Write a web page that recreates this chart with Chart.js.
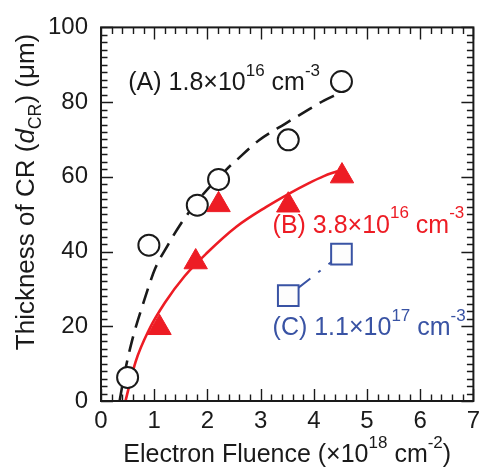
<!DOCTYPE html>
<html>
<head>
<meta charset="utf-8">
<script src="https://cdn.jsdelivr.net/npm/chart.js@4.4.0/dist/chart.umd.min.js"></script>
<style>
  html, body { margin: 0; padding: 0; background: #fff; }
  #wrap { width: 490px; height: 472px; }
</style>
</head>
<body>
<div id="wrap"><canvas id="chart" width="490" height="472"></canvas></div>
<script>
// values

// (A) 1.8e16 cm-3, open circles
const fluenceA = [0.50, 0.90, 1.81, 2.21, 3.52, 4.52];
const thickA   = [6.3, 41.7, 52.4, 59.3, 69.9, 85.5];
// (B) 3.8e16 cm-3, filled triangles
const fluenceB = [1.10, 1.78, 2.21, 3.52, 4.53];
const thickB   = [19.6, 37.2, 52.5, 52.4, 60.2];
// (C) 1.1e17 cm-3, open squares
const fluenceC = [3.52, 4.52];
const thickC   = [28.2, 39.3];

// fitted curves, traced point by point
const fitAX = [0.35, 0.44, 0.59, 0.78, 1.02, 1.26, 1.48, 1.90, 2.36, 2.55, 2.97, 3.46, 3.83, 4.19, 4.45];
const fitAY = [0, 7.2, 16.5, 25.5, 35.5, 41.8, 47.0, 55.0, 62.0, 64.5, 69.8, 74.2, 77.4, 80.4, 82.2];
const fitBX = [0.46, 0.65, 0.90, 1.20, 1.57, 1.99, 2.55, 3.10, 3.52, 3.89, 4.19, 4.44];
const fitBY = [0, 10.5, 19.0, 26.3, 33.4, 39.6, 46.7, 51.9, 55.4, 58.2, 60.2, 61.5];

// axes
const xMin = 0, xMax = 7, xStep = 1, xMinor = 0.2;
const yMin = 0, yMax = 100, yStep = 20, yMinor = 2;

const INK = '#1a1a1a';
const RED = '#ed1c24';
const BLUE = '#3953a4';
const FONT = "'Liberation Sans', Arial, Helvetica, sans-serif";

const pts = (xs, ys) => xs.map((x, i) => ({ x, y: ys[i] }));

// annotation labels: [parts, anchor x, anchor y (baseline), colour]
const labels = [
  [[['(A) 1.8×10', ''], ['16', 'sup'], [' cm', ''], ['-3', 'sup']], 0.513, 83.2, INK],
  [[['(B) 3.8×10', ''], ['16', 'sup'], [' cm', ''], ['-3', 'sup']], 3.225, 45.0, RED],
  [[['(C) 1.1×10', ''], ['17', 'sup'], [' cm', ''], ['-3', 'sup']], 3.225, 17.6, BLUE],
];
const xTitle = [['Electron Fluence (×10', ''], ['18', 'sup'], [' cm', ''], ['-2', 'sup'], [')', '']];
const yTitle = [['Thickness of CR (', ''], ['d', 'it'], ['CR', 'sub'], [') (μm)', '']];

function partFont(kind, size) {
  if (kind === 'sup' || kind === 'sub') return (size * 0.68) + 'px ' + FONT;
  if (kind === 'it') return 'italic ' + size + 'px ' + FONT;
  return size + 'px ' + FONT;
}

function richWidth(ctx, parts, size) {
  let w = 0;
  parts.forEach(([t, kind]) => {
    ctx.font = partFont(kind, size);
    w += ctx.measureText(t).width;
  });
  return w;
}

function richText(ctx, parts, x, y, size, color) {
  let cx = x;
  ctx.fillStyle = color;
  ctx.textAlign = 'left';
  ctx.textBaseline = 'alphabetic';
  parts.forEach(([t, kind]) => {
    let dy = 0;
    if (kind === 'sup') dy = -size * 0.58;
    if (kind === 'sub') dy = size * 0.26;
    ctx.font = partFont(kind, size);
    ctx.fillText(t, cx, y + dy);
    cx += ctx.measureText(t).width;
  });
}

const framePlugin = {
  id: 'frame',
  afterDraw(chart) {
    const { ctx, chartArea: a, scales: { x, y } } = chart;
    ctx.save();
    ctx.strokeStyle = INK;

    // inward ticks on all four sides
    ctx.lineWidth = 1.4;
    ctx.beginPath();
    for (let v = xMin; v <= xMax + 1e-9; v += xMinor) {
      const major = Math.abs(v / xStep - Math.round(v / xStep)) < 1e-6;
      const len = major ? 12 : 6.5;
      const px = Math.round(x.getPixelForValue(v)) + 0.5;
      ctx.moveTo(px, a.bottom); ctx.lineTo(px, a.bottom - len);
      ctx.moveTo(px, a.top); ctx.lineTo(px, a.top + len);
    }
    for (let v = yMin; v <= yMax + 1e-9; v += yMinor) {
      const major = Math.abs(v / yStep - Math.round(v / yStep)) < 1e-6;
      const len = major ? 12 : 6.5;
      const py = Math.round(y.getPixelForValue(v)) + 0.5;
      ctx.moveTo(a.left, py); ctx.lineTo(a.left + len, py);
      ctx.moveTo(a.right, py); ctx.lineTo(a.right - len, py);
    }
    ctx.stroke();

    ctx.lineWidth = 2;
    ctx.strokeRect(a.left, a.top, a.right - a.left, a.bottom - a.top);

    // series labels
    labels.forEach(([parts, lx, ly, col]) => {
      richText(ctx, parts, x.getPixelForValue(lx), y.getPixelForValue(ly), 25, col);
    });

    // axis titles
    const tx = richWidth(ctx, xTitle, 25);
    richText(ctx, xTitle, (a.left + a.right) / 2 - tx / 2, 462, 25, INK);

    const ty = richWidth(ctx, yTitle, 26);
    ctx.translate(34, 192);
    ctx.rotate(-Math.PI / 2);
    richText(ctx, yTitle, -ty / 2, 0, 26, INK);
    ctx.restore();
  }
};

new Chart(document.getElementById('chart'), {
  type: 'scatter',
  data: {
    datasets: [
      {
        label: '(B) 3.8e16',
        data: pts(fluenceB, thickB),
        pointStyle: 'triangle',
        pointRadius: 13.5,
        pointBackgroundColor: RED,
        pointBorderColor: RED,
        pointBorderWidth: 1,
        order: 0
      },
      {
        label: '(A) 1.8e16',
        data: pts(fluenceA, thickA),
        pointStyle: 'circle',
        pointRadius: 10.5,
        pointBackgroundColor: '#fff',
        pointBorderColor: INK,
        pointBorderWidth: 2,
        order: 1
      },
      {
        label: '(C) 1.1e17',
        data: pts(fluenceC, thickC),
        showLine: true,
        borderColor: BLUE,
        borderWidth: 2,
        borderDash: [28, 10, 3, 10],
        pointStyle: 'rect',
        pointRadius: 14.6,
        pointBackgroundColor: '#fdfdfd',
        pointBorderColor: BLUE,
        pointBorderWidth: 2,
        order: 2
      },
      {
        label: 'fit A',
        data: pts(fitAX, fitAY),
        showLine: true,
        borderColor: INK,
        borderWidth: 2.6,
        borderDash: [16, 9],
        cubicInterpolationMode: 'monotone',
        pointRadius: 0,
        order: 3
      },
      {
        label: 'fit B',
        data: pts(fitBX, fitBY),
        showLine: true,
        borderColor: RED,
        borderWidth: 2.6,
        cubicInterpolationMode: 'monotone',
        pointRadius: 0,
        order: 4
      }
    ]
  },
  options: {
    responsive: false,
    animation: false,
    devicePixelRatio: 1,
    layout: { padding: { top: 17, right: 7, bottom: 0, left: 0 } },
    plugins: { legend: { display: false }, tooltip: { enabled: false } },
    scales: {
      x: {
        type: 'linear',
        min: xMin, max: xMax,
        grid: { display: false, drawTicks: false },
        border: { display: false },
        ticks: { stepSize: xStep, padding: 6, color: INK, font: { family: FONT, size: 24 } },
        afterFit(scale) { scale.height = 71; }
      },
      y: {
        type: 'linear',
        min: yMin, max: yMax,
        grid: { display: false, drawTicks: false },
        border: { display: false },
        ticks: { stepSize: yStep, padding: 13, color: INK, font: { family: FONT, size: 24 } },
        afterFit(scale) { scale.width = 101; }
      }
    }
  },
  plugins: [framePlugin]
});
</script>
</body>
</html>
